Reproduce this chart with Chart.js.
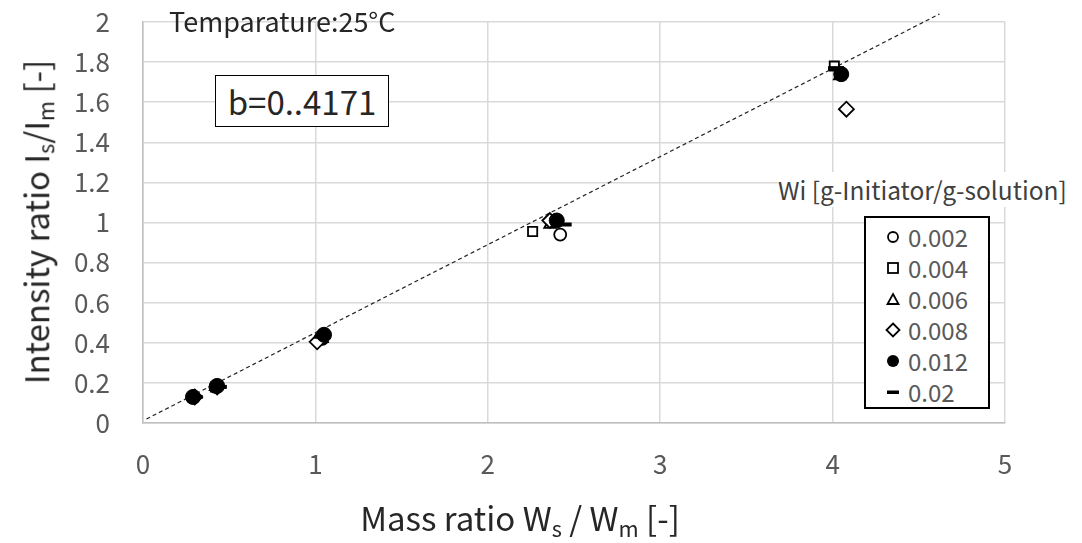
<!DOCTYPE html>
<html>
<head>
<meta charset="utf-8">
<script src="https://cdn.jsdelivr.net/npm/chart.js@4"></script>
<style>
  html, body { margin: 0; padding: 0; background: #fff; }
  #wrap { position: relative; width: 1082px; height: 543px; font-family: "Noto Sans CJK JP", "Noto Sans", sans-serif; }
  #c { position: absolute; left: 0; top: 0; }
  .lbl { position: absolute; white-space: nowrap; color: #262626; }
  .lbl sub { font-size: 0.66em; vertical-align: -0.25em; }
  #ytitle { left: 36px; top: 222px; transform: translate(-50%, -50%) rotate(-90deg); font-size: 33px; }
  #xtitle { left: 520px; top: 518px; transform: translate(-50%, -50%); font-size: 33px; }
  #temp { left: 169px; top: 1px; font-size: 27px; }
  #bbox { left: 215px; top: 75px; width: 172px; height: 50px; border: 1.5px solid #000; font-size: 33px;
          display: flex; align-items: center; justify-content: center; background: #fff; }
  #legtitle { left: 778px; top: 172px; font-size: 24.5px; color: #404040; background: #fff; }
  #legend { position: absolute; left: 864px; top: 216px; width: 126px; height: 193px; border: 2px solid #000;
            background: #fff; padding-top: 3px; box-sizing: border-box; }
  .row { display: flex; align-items: center; height: 31px; font-size: 24px; color: #595959; }
  .row svg { width: 16px; height: 16px; margin-left: 19px; margin-right: 7px; }
</style>
</head>
<body>
<div id="wrap">
  <canvas id="c" width="1082" height="543"></canvas>
  <div class="lbl" id="ytitle">Intensity ratio I<sub>s</sub>/I<sub>m</sub> [-]</div>
  <div class="lbl" id="xtitle">Mass ratio W<sub>s</sub> / W<sub>m</sub> [-]</div>
  <div class="lbl" id="temp">Temparature:25°C</div>
  <div class="lbl" id="bbox">b=0..4171</div>
  <div class="lbl" id="legtitle">Wi [g-Initiator/g-solution]</div>
  <div id="legend"></div>
</div>
<script>
// ── Data ─────────────────────────────────────────────────────────────────────
const SERIES_NAMES = ['0.002', '0.004', '0.006', '0.008', '0.012', '0.02'];
const X_0002 = [0.29, 0.42, 1.04, 2.42, 4.05];
const Y_0002 = [0.13, 0.18, 0.42, 0.94, 1.74];
const X_0004 = [0.29, 0.42, 1.03, 2.26, 4.01];
const Y_0004 = [0.13, 0.18, 0.42, 0.955, 1.78];
const X_0006 = [0.29, 0.42, 1.04, 2.36, 4.04];
const Y_0006 = [0.13, 0.18, 0.42, 0.99, 1.73];
const X_0008 = [0.30, 0.43, 1.01, 2.36, 4.08];
const Y_0008 = [0.13, 0.18, 0.405, 1.01, 1.565];
const X_0012 = [0.29, 0.43, 1.05, 2.40, 4.05];
const Y_0012 = [0.13, 0.185, 0.44, 1.01, 1.74];
const X_002  = [0.30, 0.44, 1.04, 2.44, 4.02];
const Y_002  = [0.13, 0.18, 0.43, 0.99, 1.77];
const TREND_X = [0.02, 4.62];
const TREND_Y = [0.02, 2.04];
const X_TICKS = [0, 1, 2, 3, 4, 5];
const Y_TICKS = [0, 0.2, 0.4, 0.6, 0.8, 1, 1.2, 1.4, 1.6, 1.8, 2];

const XS = [X_0002, X_0004, X_0006, X_0008, X_0012, X_002];
const YS = [Y_0002, Y_0004, Y_0006, Y_0008, Y_0012, Y_002];

// ── Marker styles ────────────────────────────────────────────────────────────
const MARKERS = [
  { pointStyle: 'circle',   radius: 6,   fill: '#fff', bw: 1.8 },
  { pointStyle: 'rect',     radius: 6.5, fill: '#fff', bw: 1.8 },
  { pointStyle: 'triangle', radius: 6.5, fill: '#fff', bw: 1.8 },
  { pointStyle: 'rectRot',  radius: 7.5, fill: '#fff', bw: 1.8 },
  { pointStyle: 'circle',   radius: 7.5, fill: '#000', bw: 1 },
  { pointStyle: 'line',     radius: 8,   fill: '#000', bw: 4 },
];

const toPts = (xs, ys) => xs.map((x, i) => ({ x, y: ys[i] }));

const datasets = SERIES_NAMES.map((name, i) => ({
  label: name,
  data: toPts(XS[i], YS[i]),
  pointStyle: MARKERS[i].pointStyle,
  pointRadius: MARKERS[i].radius,
  pointBackgroundColor: MARKERS[i].fill,
  pointBorderColor: '#000',
  pointBorderWidth: MARKERS[i].bw,
  showLine: false,
  order: 10 - i,
}));

// trendline runs a little past the top of the plot, as in the original
datasets.push({
  label: 'trend',
  type: 'line',
  data: toPts(TREND_X, TREND_Y),
  borderColor: '#222',
  borderWidth: 1.2,
  borderDash: [4, 3],
  pointRadius: 0,
  fill: false,
  clip: false,
  order: 20,
});

// ── Legend (HTML) ────────────────────────────────────────────────────────────
const SVG_MARK = [
  '<circle cx="8" cy="8" r="5" fill="#fff" stroke="#000" stroke-width="1.8"/>',
  '<rect x="3" y="3" width="10" height="10" fill="#fff" stroke="#000" stroke-width="1.8"/>',
  '<polygon points="8,3 13.5,13 2.5,13" fill="#fff" stroke="#000" stroke-width="1.8"/>',
  '<polygon points="8,1.5 14.5,8 8,14.5 1.5,8" fill="#fff" stroke="#000" stroke-width="1.8"/>',
  '<circle cx="8" cy="8" r="6" fill="#000"/>',
  '<rect x="2" y="6.5" width="12" height="3.5" fill="#000"/>',
];
document.getElementById('legend').innerHTML = SERIES_NAMES.map((n, i) =>
  `<div class="row"><svg viewBox="0 0 16 16">${SVG_MARK[i]}</svg>${n}</div>`).join('');

// ── Chart ────────────────────────────────────────────────────────────────────
const tickFont = { family: '"Noto Sans CJK JP", "Noto Sans", sans-serif', size: 26 };

new Chart(document.getElementById('c').getContext('2d'), {
  type: 'scatter',
  data: { datasets },
  options: {
    responsive: false,
    animation: false,
    layout: { padding: { left: 0, top: 22, right: 77, bottom: 0 } },
    plugins: { legend: { display: false }, tooltip: { enabled: false } },
    scales: {
      x: {
        type: 'linear', min: 0, max: 5,
        afterBuildTicks: s => { s.ticks = X_TICKS.map(v => ({ value: v })); },
        afterFit: s => { s.height = 120; s.paddingLeft = 0; s.paddingRight = 0; },
        ticks: { color: '#595959', font: tickFont, padding: 26, callback: v => String(v) },
        grid: { color: '#d9d9d9', lineWidth: 1.5, drawTicks: false },
        border: { color: '#bfbfbf', width: 1.5 },
      },
      y: {
        type: 'linear', min: 0, max: 2,
        afterBuildTicks: s => { s.ticks = Y_TICKS.map(v => ({ value: v })); },
        afterFit: s => { s.width = 143; s.paddingTop = 0; s.paddingBottom = 0; },
        ticks: { color: '#595959', font: tickFont, padding: 33, callback: v => String(+v.toFixed(1)) },
        grid: { color: '#d9d9d9', lineWidth: 1.5, drawTicks: false },
        border: { color: '#bfbfbf', width: 1.5 },
      },
    },
  },
});
</script>
</body>
</html>
